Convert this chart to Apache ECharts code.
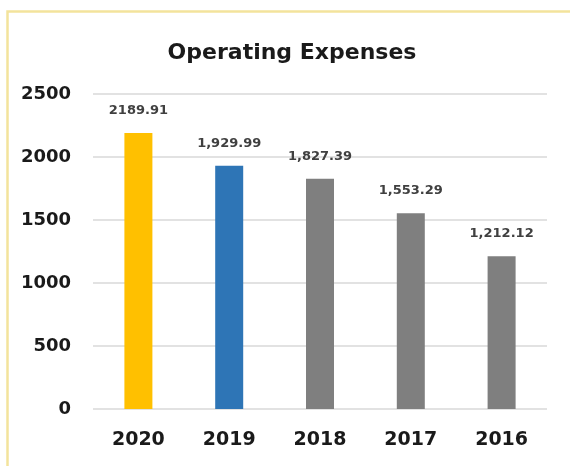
<!DOCTYPE html>
<html>
<head>
<meta charset="utf-8">
<title>Operating Expenses</title>
<script src="https://cdn.jsdelivr.net/npm/echarts@6/dist/echarts.min.js"></script>
<style>
  html, body { margin: 0; padding: 0; background: #ffffff; }
  #chart { width: 570px; height: 466px; }
</style>
</head>
<body>
<div id="chart"></div>
<script>
// Operating expenses by year
const years = ['2020', '2019', '2018', '2017', '2016'];
const expenses = [2189.91, 1929.99, 1827.39, 1553.29, 1212.12];
const valueLabels = ['2189.91', '1,929.99', '1,827.39', '1,553.29', '1,212.12'];
const barColors = ['#FFC000', '#2E75B6', '#7F7F7F', '#7F7F7F', '#7F7F7F'];
const yTicks = [0, 500, 1000, 1500, 2000, 2500];

const chart = echarts.init(document.getElementById('chart'), null, { renderer: 'canvas' });

const fontFamily = '"DejaVu Sans", "Noto Sans", sans-serif';

chart.setOption({
  backgroundColor: '#ffffff',
  animation: false,
  graphic: [{
    type: 'rect',
    left: 5, top: 9,
    shape: { width: 580, height: 480 },
    style: { fill: 'none', stroke: '#f3e39c', lineWidth: 2.5 },
    silent: true,
    z: -1
  }],
  title: {
    text: 'Operating Expenses',
    left: 287,
    textAlign: 'center',
    top: 37,
    textStyle: {
      fontFamily: fontFamily,
      fontSize: 22,
      fontWeight: 'bold',
      color: '#1a1a1a'
    }
  },
  grid: { left: 93, right: 23, top: 94, bottom: 57 },
  xAxis: {
    type: 'category',
    data: years,
    axisLine: { show: false },
    axisTick: { show: false },
    axisLabel: {
      margin: 22,
      fontFamily: fontFamily,
      fontSize: 19,
      fontWeight: 'bold',
      color: '#1a1a1a'
    }
  },
  yAxis: {
    type: 'value',
    min: yTicks[0],
    max: yTicks[yTicks.length - 1],
    interval: yTicks[1] - yTicks[0],
    axisLine: { show: false },
    axisTick: { show: false },
    axisLabel: {
      margin: 22,
      fontFamily: fontFamily,
      fontSize: 18,
      fontWeight: 'bold',
      color: '#1a1a1a',
      formatter: v => String(v)
    },
    splitLine: { lineStyle: { color: '#d9d9d9', width: 1.5 } }
  },
  series: [{
    type: 'bar',
    barWidth: 28,
    data: expenses.map((v, i) => ({ value: v, itemStyle: { color: barColors[i] } })),
    label: {
      show: true,
      position: 'top',
      distance: 16,
      fontFamily: fontFamily,
      fontSize: 13,
      fontWeight: 'bold',
      color: '#404040',
      formatter: p => valueLabels[p.dataIndex]
    }
  }]
});
</script>
</body>
</html>
